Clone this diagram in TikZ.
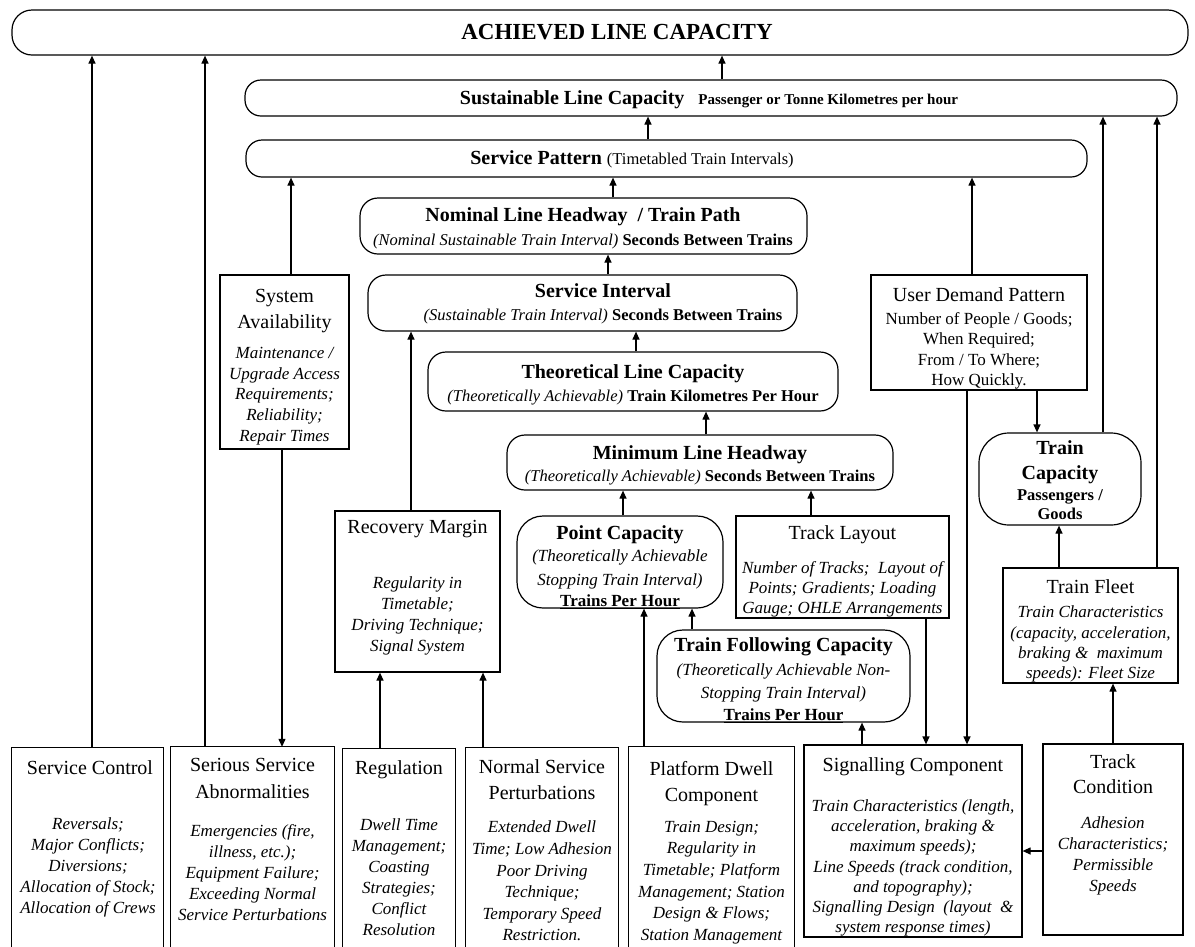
\documentclass[tikz,border=0pt]{standalone}
\usepackage{fontspec}
\setmainfont{Liberation Serif}
\usetikzlibrary{arrows.meta}
\newcommand\fsz[2]{\fontsize{#1}{#2}\selectfont}
\newcommand\vconn[3]{\coordinate (vx) at (#1,0); \draw[arr] (vx |- #2) -- (vx |- #3);}
\begin{document}
\begin{tikzpicture}[x=1pt,y=-1pt,
  box/.style={draw, inner sep=0pt, line width=1.2pt},
  arr/.style={draw, line width=1.2pt, -{Triangle[length=8pt,width=7pt]}},
  t/.style={inner sep=0pt, align=center, anchor=north, font=\fsz{20}{26}},
  bt/.style={inner sep=0pt, align=center, anchor=north, font=\bfseries\fsz{20}{25}},
  it/.style={inner sep=0pt, align=center, anchor=north, font=\itshape\fsz{17}{21}},
  sub/.style={inner sep=0pt, align=center, anchor=north, font=\fsz{16.5}{20}}]
\useasboundingbox (0,0) rectangle (1195,946);

% ---- rounded boxes
\node[box, rounded corners=20pt, minimum width=1176pt, minimum height=45pt] (alc) at (600,32.5) {};
\node[box, rounded corners=16pt, minimum width=932pt, minimum height=36pt] (slc) at (711,98) {};
\node[box, rounded corners=16pt, minimum width=841pt, minimum height=37pt] (sp) at (666.5,158.5) {};
\node[box, rounded corners=18pt, minimum width=447pt, minimum height=56pt] (nlh) at (583.5,226) {};
\node[box, rounded corners=18pt, minimum width=429pt, minimum height=56pt] (si) at (582.5,303) {};
\node[box, rounded corners=18pt, minimum width=410pt, minimum height=59pt] (tlc) at (633,381.5) {};
\node[box, rounded corners=18pt, minimum width=386pt, minimum height=55pt] (mlh) at (700,462.5) {};
\node[box, rounded corners=26pt, minimum width=206pt, minimum height=92pt] (pc) at (620,562) {};
\node[box, rounded corners=26pt, minimum width=253pt, minimum height=92pt] (tfc) at (783.5,676) {};
\node[box, rounded corners=30pt, minimum width=162pt, minimum height=92pt] (tcap) at (1060,479) {};

% ---- square boxes
\node[box, minimum width=213pt, minimum height=102pt] (tl) at (842.5,567) {};
\node[box, minimum width=129pt, minimum height=174pt] (sa) at (284.5,362) {};
\node[box, minimum width=165pt, minimum height=161pt] (rm) at (417.5,591.5) {};
\node[box, minimum width=216pt, minimum height=115pt] (udp) at (979,332.5) {};
\node[box, minimum width=175pt, minimum height=115pt] (tf) at (1090.5,625.5) {};
\node[box, minimum width=218pt, minimum height=192pt] (sig) at (913,841) {};
\node[box, minimum width=140pt, minimum height=191pt] (tc) at (1113,839.5) {};

% ---- bottom boxes, open at the page edge
\node[inner sep=0pt, minimum width=151pt, minimum height=200pt] (sc) at (87.5,848) {};
\node[inner sep=0pt, minimum width=163pt, minimum height=201pt] (ssa) at (252.5,847.5) {};
\node[inner sep=0pt, minimum width=112pt, minimum height=199pt] (reg) at (399,848.5) {};
\node[inner sep=0pt, minimum width=152pt, minimum height=200pt] (nsp) at (542,848) {};
\node[inner sep=0pt, minimum width=165pt, minimum height=201pt] (pdc) at (711.5,847.5) {};
\foreach \n in {sc,ssa,reg,nsp,pdc}
  \draw[line width=1.2pt] (\n.south west) -- (\n.north west) -- (\n.north east) -- (\n.south east);

% ---- texts
\node[inner sep=0pt, anchor=north, font=\bfseries\fsz{23}{28}] (achT) at (617,23.7) {ACHIEVED LINE CAPACITY};
\node[inner sep=0pt, anchor=north, font=\bfseries\fsz{20}{25}] (susT) at (709,90.8) {Sustainable Line Capacity\hspace{14pt}{\fsz{15}{18}Passenger or Tonne Kilometres per hour}};
\node[inner sep=0pt, anchor=north, font=\fsz{20}{25}] (spT) at (632,150.8) {\textbf{Service Pattern} {\fsz{16.5}{20}(Timetabled Train Intervals)}};
\node[bt] (nomT) at (583,207.8) {Nominal Line Headway \ / Train Path};
\node[sub] (nomS) at (583,234.1) {\textit{(Nominal Sustainable Train Interval)} \textbf{Seconds Between Trains}};
\node[bt] (siT) at (603,283.8) {Service Interval};
\node[sub] (siS) at (603,309.1) {\textit{(Sustainable Train Interval)} \textbf{Seconds Between Trains}};
\node[bt] (tlcT) at (633,364.8) {Theoretical Line Capacity};
\node[sub] (tlcS) at (633,390.1) {\textit{(Theoretically Achievable)} \textbf{Train Kilometres Per Hour}};
\node[bt] (mlhT) at (700,445.8) {Minimum Line Headway};
\node[sub] (mlhS) at (700,470.1) {\textit{(Theoretically Achievable)} \textbf{Seconds Between Trains}};

\node[bt] (pcT) at (620,525.8) {Point Capacity};
\node[it, font=\itshape\fsz{17}{23.5}] (pcS) at (620,549.9) {(Theoretically Achievable\\Stopping Train Interval)};
\node[inner sep=0pt, anchor=north, font=\bfseries\fsz{17}{21}] (pcU) at (620,594.5) {\underline{Trains Per Hour}};

\node[t] (tlT) at (842.5,525.8) {Track Layout};
\node[it, font=\itshape\fsz{17}{20}] (tlS) at (842.5,560.9) {Number of Tracks; \ Layout of\\Points; Gradients; Loading\\Gauge; OHLE Arrangements};

\node[bt] (tfcT) at (783.5,637.8) {Train Following Capacity};
\node[it, font=\itshape\fsz{17}{23}] (tfcS) at (783.5,663.9) {(Theoretically Achievable Non-\\Stopping Train Interval)};
\node[inner sep=0pt, anchor=north, font=\bfseries\fsz{17}{21}] (tfcU) at (783.5,708.5) {\underline{Trains Per Hour}};

\node[t] (saT) at (284.5,288.8) {System\\Availability};
\node[it, font=\itshape\fsz{17}{20.75}] (saS) at (284.5,346.9) {Maintenance /\\Upgrade Access\\Requirements;\\Reliability;\\Repair Times};

\node[t] (rmT) at (417.5,519.8) {Recovery Margin};
\node[it, font=\itshape\fsz{17}{20.7}] (rmS) at (417.5,576.9) {Regularity in\\Timetable;\\Driving Technique;\\Signal System};

\node[t] (udpT) at (979,287.8) {User Demand Pattern};
\node[inner sep=0pt, align=center, anchor=north, font=\fsz{17}{20.3}] (udpS) at (979,312.5) {Number of People / Goods;\\When Required;\\From / To Where;\\How Quickly.};

\node[bt] (tcapT) at (1060,440.8) {Train\\Capacity};
\node[inner sep=0pt, align=center, anchor=north, font=\bfseries\fsz{16.5}{19}] (tcapS) at (1060,489.5) {Passengers /\\Goods};

\node[t] (tfT) at (1090.5,579.8) {Train Fleet};
\node[it, font=\itshape\fsz{17}{20.3}] (tfS) at (1090.5,605.9) {Train Characteristics\\(capacity, acceleration,\\braking \& \ maximum\\speeds): Fleet Size};

\node[t] (scT) at (90,760.8) {Service Control};
\node[it] (scS) at (88,817.9) {Reversals;\\Major Conflicts;\\Diversions;\\Allocation of Stock;\\Allocation of Crews};

\node[t, font=\fsz{20}{27}] (ssaT) at (252.5,757.8) {Serious Service\\Abnormalities};
\node[it, font=\itshape\fsz{17}{21.2}] (ssaS) at (252.5,823.9) {Emergencies (fire,\\illness, etc.);\\Equipment Failure;\\Exceeding Normal\\Service Perturbations};

\node[t] (regT) at (399,760.8) {Regulation};
\node[it] (regS) at (399,818.9) {Dwell Time\\Management;\\Coasting\\Strategies;\\Conflict\\Resolution};

\node[t] (nspT) at (542,759.8) {Normal Service\\Perturbations};
\node[it, font=\itshape\fsz{17}{21.6}] (nspS) at (542,820.9) {Extended Dwell\\Time; Low Adhesion\\Poor Driving\\Technique;\\Temporary Speed\\Restriction.};

\node[t] (pdcT) at (711.5,760.8) {Platform Dwell\\Component};
\node[it, font=\itshape\fsz{17}{21.6}] (pdcS) at (711.5,820.9) {Train Design;\\Regularity in\\Timetable; Platform\\Management; Station\\Design \& Flows;\\Station Management};

\node[t] (sigT) at (913,757.8) {Signalling Component};
\node[it, font=\itshape\fsz{17}{20.2}] (sigS) at (913,799.5) {Train Characteristics (length,\\acceleration, braking \&\\maximum speeds);\\Line Speeds (track condition,\\and topography);\\Signalling Design \ (layout \ \&\\system response times)};

\node[t, font=\fsz{20}{25}] (tcT) at (1113,754.8) {Track\\Condition};
\node[it] (tcS) at (1113,816.9) {Adhesion\\Characteristics;\\Permissible\\Speeds};

% ---- connectors
\vconn{92}{sc.north}{alc.south}
\vconn{205}{ssa.north}{alc.south}
\vconn{722}{slc.north}{alc.south}
\vconn{648}{sp.north}{slc.south}
\vconn{1103}{tcap.north}{slc.south}
\vconn{1157}{tf.north}{slc.south}
\vconn{291}{sa.north}{sp.south}
\vconn{972}{udp.north}{sp.south}
\vconn{613}{nlh.north}{sp.south}
\vconn{608}{si.north}{nlh.south}
\vconn{636}{tlc.north}{si.south}
\vconn{411}{rm.north}{si.south}
\vconn{706}{mlh.north}{tlc.south}
\vconn{623}{pc.north}{mlh.south}
\vconn{811}{tl.north}{mlh.south}
\vconn{644}{pdc.north}{pc.south}
\vconn{692}{tfc.north}{pc.south}
\vconn{862}{sig.north}{tfc.south}
\vconn{926}{tl.south}{sig.north}
\vconn{967}{udp.south}{sig.north}
\vconn{1037}{udp.south}{tcap.north}
\vconn{1059}{tf.north}{tcap.south}
\vconn{1113}{tc.north}{tf.south}
\vconn{282}{sa.south}{ssa.north}
\vconn{380}{reg.north}{rm.south}
\vconn{483}{nsp.north}{rm.south}
\coordinate (hy) at (0,851);
\draw[arr] (tc.west |- hy) -- (sig.east |- hy);
\end{tikzpicture}
\end{document}
